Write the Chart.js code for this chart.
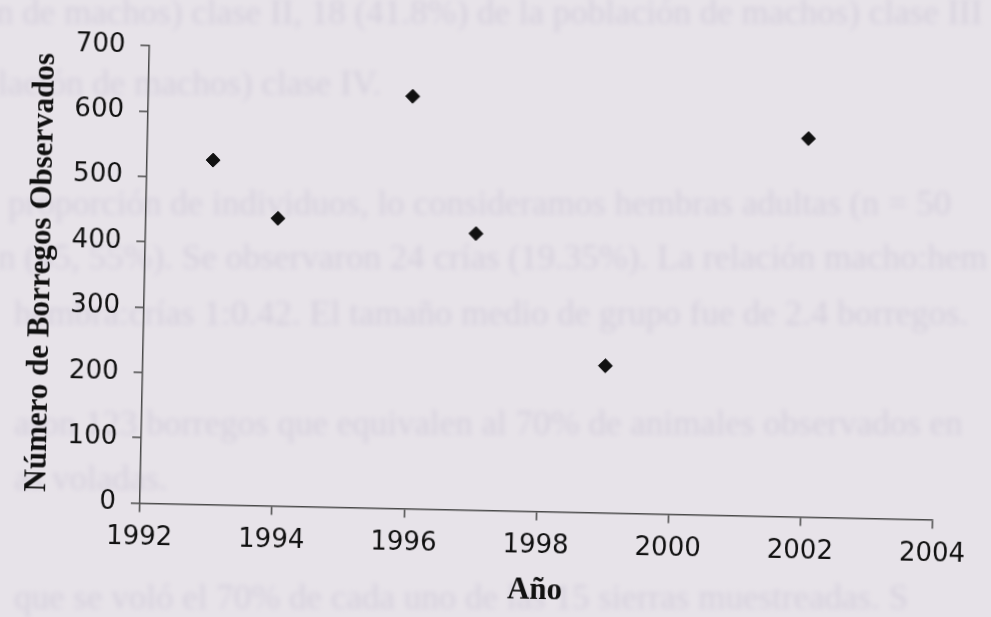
<!DOCTYPE html>
<html>
<head>
<meta charset="utf-8">
<script src="https://cdn.jsdelivr.net/npm/chart.js@4/dist/chart.umd.min.js"></script>
<style>
  html, body { margin: 0; padding: 0; }
  body { width: 991px; height: 617px; overflow: hidden; background: #e7e3e9; position: relative; }
  .bleed { position: absolute; left: 0; width: 991px; white-space: nowrap; overflow: hidden;
    font-family: "Liberation Serif", serif; font-size: 35px; color: #c3bccf; opacity: 0.45; filter: blur(2.6px); }
  #wrap { position: absolute; left: 0; top: 0; width: 991px; height: 617px; transform: rotate(1.2deg); }
</style>
</head>
<body>
<div class="bleed" style="top:-7px;left:-4px">n de machos) clase II, 18 (41.8%) de la población de machos) clase III</div>
<div class="bleed" style="top:64px;left:-2px">lación de machos) clase IV.</div>
<div class="bleed" style="top:184px;left:8px">proporción de individuos, lo consideramos hembras adultas (n = 50</div>
<div class="bleed" style="top:238px;left:-2px">n (45, 55%). Se observaron 24 crías (19.35%). La relación macho:hem</div>
<div class="bleed" style="top:294px;left:14px">hembra:crías 1:0.42. El tamaño medio de grupo fue de 2.4 borregos.</div>
<div class="bleed" style="top:404px;left:14px">aron 123 borregos que equivalen al 70% de animales observados en</div>
<div class="bleed" style="top:459px;left:14px">as voladas.</div>
<div class="bleed" style="top:578px;left:14px">que se voló el 70% de cada uno de las 15 sierras muestreadas. S</div>
<div id="wrap"><canvas id="scatter" width="991" height="617"></canvas></div>
<script>
const years = [1993, 1994, 1996, 1997, 1999, 2002];
const counts = [527, 440, 631, 423, 225, 579];
const xTicks = [1992, 1994, 1996, 1998, 2000, 2002, 2004];
const yTicks = [0, 100, 200, 300, 400, 500, 600, 700];

const points = years.map((y, i) => ({ x: y, y: counts[i] }));

const tickFont = { family: "DejaVu Sans", size: 26 };
const titleFont = { family: "Liberation Serif", size: 31, weight: "bold" };

const ctx = document.getElementById("scatter").getContext("2d");
new Chart(ctx, {
  type: "scatter",
  data: {
    datasets: [
      {
        data: points,
        pointStyle: "rectRot",
        pointRadius: 7,
        backgroundColor: "#111",
        borderColor: "#111",
        borderWidth: 1,
      },
    ],
  },
  options: {
    responsive: false,
    animation: false,
    layout: { padding: { left: 0, right: 54, top: 53, bottom: 0 } },
    plugins: { legend: { display: false }, tooltip: { enabled: false } },
    scales: {
      x: {
        type: "linear",
        min: xTicks[0],
        max: xTicks[xTicks.length - 1],
        afterBuildTicks: (s) => { s.ticks = xTicks.map((v) => ({ value: v })); },
        afterFit: (s) => { s.height = 106.5; },
        border: { color: "#4a4a4a", width: 1.5 },
        grid: { drawOnChartArea: false, tickLength: 9, color: "#4a4a4a", lineWidth: 1.5 },
        ticks: { color: "#111", font: tickFont, padding: 10, maxRotation: 0, callback: (v) => String(v) },
        title: { display: true, text: "Año", color: "#111", font: titleFont, padding: { top: 0, bottom: 8 } },
      },
      y: {
        min: yTicks[0],
        max: yTicks[yTicks.length - 1],
        afterBuildTicks: (s) => { s.ticks = yTicks.map((v) => ({ value: v })); },
        afterFit: (s) => { s.width = 144; },
        border: { color: "#4a4a4a", width: 1.5 },
        grid: { drawOnChartArea: false, tickLength: 9, color: "#4a4a4a", lineWidth: 1.5 },
        ticks: { color: "#111", font: tickFont, padding: 15 },
        title: { display: true, text: "Número de Borregos Observados", color: "#111", font: titleFont, padding: { top: 22, bottom: 0 } },
      },
    },
  },
});
</script>
</body>
</html>
